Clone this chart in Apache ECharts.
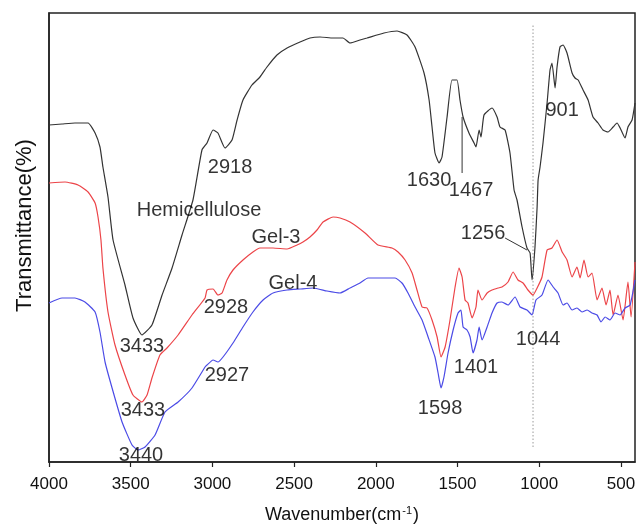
<!DOCTYPE html>
<html>
<head>
<meta charset="utf-8">
<script src="https://cdn.jsdelivr.net/npm/echarts@6/dist/echarts.min.js"></script>
<style>
  html, body { margin: 0; padding: 0; background: #fff; }
  #chart { width: 637px; height: 528px; }
</style>
</head>
<body>
<div id="chart"></div>
<script>
// FTIR spectra: wavenumber (cm-1) and offset transmittance (arbitrary units)
const hemiWn = [4000,3920,3841,3761,3718,3688,3670,3639,3608,3535,3486,3431,3370,3308,3247,3186,3119,3064,3033,2996,2966,2923,2880,2849,2813,2758,2709,2666,2605,2543,2464,2403,2341,2262,2201,2158,2097,2054,1950,1870,1809,1760,1705,1674,1656,1638,1613,1595,1564,1534,1503,1485,1466,1430,1399,1387,1368,1356,1338,1289,1258,1240,1209,1179,1154,1136,1105,1075,1056,1044,1026,1013,1007,995,977,952,934,922,903,891,873,854,830,799,781,762,732,701,671,640,610,579,548,524,505,475,457,432,414];
const hemiT  = [337,338,339,339,329,315,295,265,222,177,144,127,137,167,194,227,262,312,319,332,329,314,322,342,362,377,385,395,407,414,420,424,425,424,424,419,422,424,429,431,427,415,389,362,335,309,299,305,345,382,382,362,345,329,319,315,332,325,347,354,345,335,332,309,272,262,235,214,209,182,215,255,282,295,319,359,392,399,374,395,415,417,409,389,384,382,372,362,345,339,332,330,335,339,334,324,335,342,359];

const gel3Wn = [4000,3902,3822,3761,3718,3700,3682,3670,3639,3596,3535,3486,3431,3400,3370,3321,3278,3210,3125,3045,3033,2996,2966,2941,2911,2874,2813,2752,2709,2629,2543,2482,2446,2403,2360,2323,2262,2219,2158,2066,1987,1901,1864,1821,1778,1748,1717,1687,1656,1625,1601,1576,1546,1515,1491,1472,1454,1436,1411,1387,1375,1350,1319,1289,1252,1228,1191,1160,1130,1099,1069,1038,1013,983,952,922,891,860,830,799,769,750,726,701,677,646,616,591,567,548,518,487,457,438,414];
const gel3T  = [279,280,277,270,259,245,222,194,150,117,87,67,60,67,84,107,114,127,147,164,172,173,167,169,182,192,202,210,214,214,213,217,220,225,232,240,245,244,240,229,217,214,210,202,189,172,155,154,142,125,105,115,142,175,194,185,162,159,144,155,172,162,169,172,174,175,180,190,182,179,172,167,174,185,212,214,222,210,202,185,195,184,202,185,189,162,174,157,172,147,167,142,180,145,200];

const gel4Wn = [4000,3920,3841,3780,3718,3688,3657,3614,3553,3492,3455,3412,3351,3290,3210,3125,3045,3033,2996,2966,2935,2874,2813,2752,2690,2629,2543,2464,2384,2299,2219,2158,2097,2048,1962,1882,1840,1803,1760,1717,1680,1638,1619,1601,1583,1558,1527,1497,1479,1466,1442,1423,1405,1381,1368,1350,1319,1289,1258,1228,1191,1148,1117,1075,1044,1020,983,946,915,885,854,830,799,769,738,707,677,646,622,597,567,536,505,475,444,414];
const gel4T  = [159,164,164,160,150,130,100,74,40,17,12,15,27,50,60,74,95,97,102,100,105,119,135,150,162,169,172,173,174,171,169,174,179,184,184,184,179,169,155,142,125,105,89,74,85,109,132,149,152,135,132,125,109,122,135,122,135,149,159,160,157,165,155,152,147,162,167,182,175,169,157,159,152,154,150,152,149,147,140,145,142,149,147,154,157,182];

// x-axis ticks
const tickValues = [4000, 3500, 3000, 2500, 2000, 1500, 1000, 500];

// peak / curve annotations
const noteText = ['2918','Hemicellulose','Gel-3','Gel-4','2928','3433','3433','3440','2927','1630','1467','901','1256','1044','1401','1598'];
const noteWn   = [2892, 3082, 2611, 2507, 2917, 3431, 3425, 3437, 2911, 1674, 1417, 860, 1344, 1007, 1387, 1607];
const noteT    = [295, 252, 225, 179, 155, 116, 52, 7, 87, 282, 272, 352, 229, 123, 95, 54];

// leader lines: [wn1, t1, wn2, t2]
const leader1467 = [1472, 345, 1472, 289];
const leader1256 = [1209, 224, 1075, 212];
// dotted guide at the 1044 band
const guideWn = 1038;
const guideT = [15, 438];

const pairs = (xs, ys) => xs.map((x, i) => [x, ys[i]]);

const chart = echarts.init(document.getElementById('chart'));
const font = '"Liberation Sans", Arial, sans-serif';

chart.setOption({
  animation: false,
  backgroundColor: '#fff',
  grid: { left: 49, right: 2, top: 13, bottom: 66, containLabel: false, outerBoundsMode: 'none',
          show: true, borderColor: '#222', borderWidth: 1.5 },
  xAxis: {
    type: 'value', inverse: true, min: 414, max: 4000,
    name: '{a|Wavenumber(cm}{s|-1}{a|)}',
    nameLocation: 'middle', nameGap: 43,
    nameTextStyle: {
      rich: {
        a: { fontFamily: font, fontSize: 18, color: '#111' },
        s: { fontFamily: font, fontSize: 11, color: '#111', verticalAlign: 'top', padding: [0, 1, 10, 1] }
      }
    },
    axisLine: { show: true, lineStyle: { color: '#222', width: 1.5 } },
    axisTick: { show: true, inside: false, length: 5, customValues: tickValues, lineStyle: { color: '#222', width: 1.2 } },
    axisLabel: { customValues: tickValues, margin: 14, fontFamily: font, fontSize: 17, color: '#111',
                 formatter: v => String(v) },
    splitLine: { show: false }
  },
  yAxis: {
    type: 'value', min: 0, max: 449,
    name: 'Transmittance(%)', nameLocation: 'middle', nameGap: 13,
    nameTextStyle: { fontFamily: font, fontSize: 22, color: '#111', padding: [0, 0, 0, 24] },
    axisLine: { show: true, lineStyle: { color: '#222', width: 1.5 } },
    axisTick: { show: false }, axisLabel: { show: false }, splitLine: { show: false }
  },
  series: [
    { type: 'line', name: 'guide', data: [[guideWn, guideT[0]], [guideWn, guideT[1]]], symbol: 'none',
      lineStyle: { color: '#999', width: 1, type: [1.5, 2] }, z: 1 },
    { type: 'line', name: 'Hemicellulose', data: pairs(hemiWn, hemiT), symbol: 'none', smooth: 0.15,
      lineStyle: { color: '#333', width: 1.2 }, z: 3 },
    { type: 'line', name: 'Gel-3', data: pairs(gel3Wn, gel3T), symbol: 'none', smooth: 0.15,
      lineStyle: { color: '#ec4448', width: 1.2 }, z: 3 },
    { type: 'line', name: 'Gel-4', data: pairs(gel4Wn, gel4T), symbol: 'none', smooth: 0.15,
      lineStyle: { color: '#4b4be6', width: 1.2 }, z: 3 },
    { type: 'line', name: 'lead1467', data: [[leader1467[0], leader1467[1]], [leader1467[2], leader1467[3]]], symbol: 'none',
      lineStyle: { color: '#333', width: 1 }, z: 4 },
    { type: 'line', name: 'lead1256', data: [[leader1256[0], leader1256[1]], [leader1256[2], leader1256[3]]], symbol: 'none',
      lineStyle: { color: '#333', width: 1 }, z: 4 },
    { type: 'scatter', name: 'notes', symbol: 'circle', symbolSize: 1,
      itemStyle: { color: 'rgba(0,0,0,0)' },
      data: noteText.map((t, i) => ({ name: t, value: [noteWn[i], noteT[i]] })),
      label: { show: true, position: 'inside', formatter: '{b}', fontFamily: font, fontSize: 20, color: '#000' },
      emphasis: { disabled: true }, z: 5 }
  ]
});
</script>
</body>
</html>
